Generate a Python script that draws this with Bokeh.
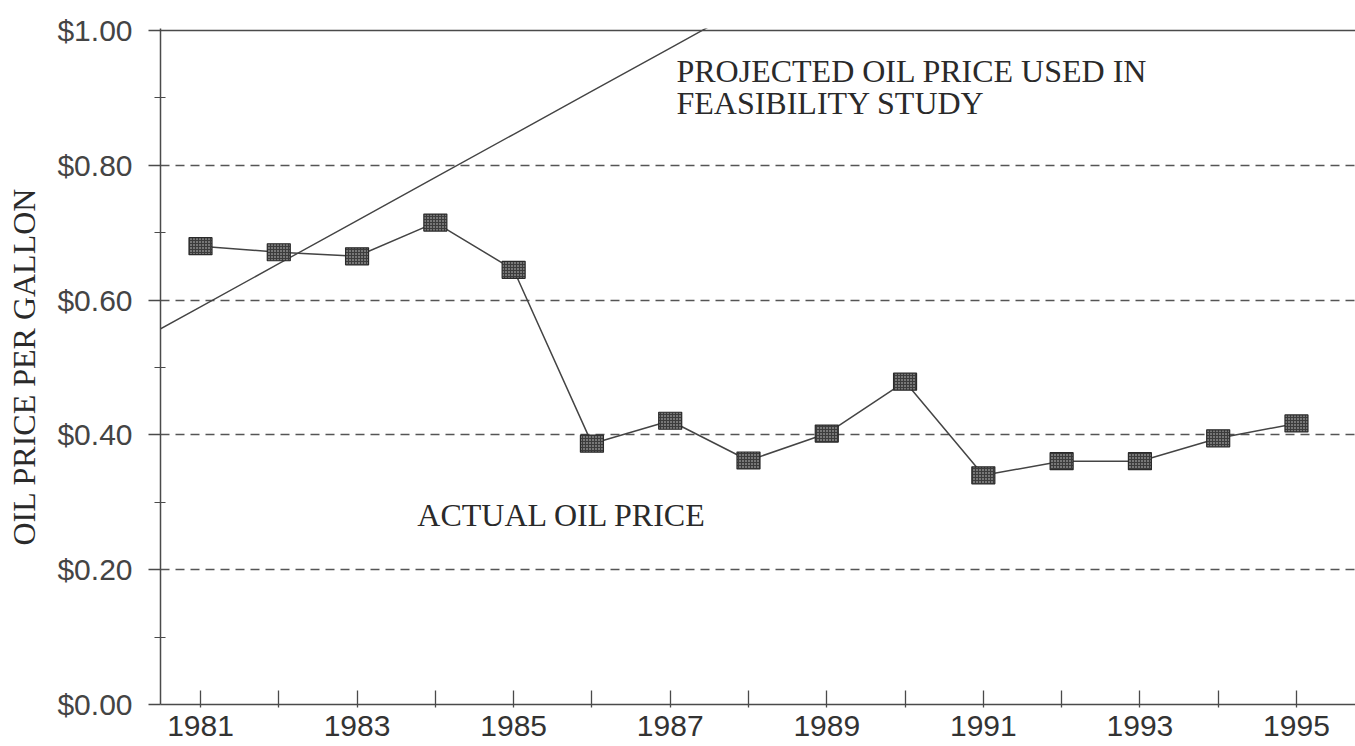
from bokeh.plotting import figure
from bokeh.models import FixedTicker, Span, ColumnDataSource, Range1d
from bokeh.core.properties import value
from bokeh.embed import file_html
from bokeh.resources import INLINE

# ---- data ----
years = [1981, 1982, 1983, 1984, 1985, 1986, 1987, 1988, 1989, 1990, 1991, 1992, 1993, 1994, 1995]
actual_price = [0.680, 0.671, 0.665, 0.715, 0.645, 0.387, 0.421, 0.362, 0.402, 0.479, 0.340, 0.361, 0.361, 0.395, 0.417]

proj_years = [1980, 1981, 1982, 1983, 1984, 1985, 1986, 1987, 1988]
proj_price = [0.526, 0.590, 0.654, 0.718, 0.782, 0.846, 0.910, 0.974, 1.038]

x_label_years = [1981, 1983, 1985, 1987, 1989, 1991, 1993, 1995]
x_minor_years = [1982, 1984, 1986, 1988, 1990, 1992, 1994]
y_ticks = [0.0, 0.2, 0.4, 0.6, 0.8, 1.0]
y_tick_labels = ["$0.00", "$0.20", "$0.40", "$0.60", "$0.80", "$1.00"]
y_minor = [0.1, 0.3, 0.5, 0.7, 0.9]
grid_levels = [0.2, 0.4, 0.6, 0.8]

notes_text = ["PROJECTED OIL PRICE USED IN", "FEASIBILITY STUDY", "ACTUAL OIL PRICE"]
notes_x = [1987.08, 1987.08, 1983.77]
notes_y = [0.940, 0.892, 0.281]

INK = "#4a4a4a"
TXT = "#2a2a2a"

p = figure(width=1355, height=746, output_backend="svg", toolbar_location=None,
           x_range=Range1d(1980.489, 1995.754), y_range=Range1d(0.0, 1.003),
           min_border_top=28, min_border_right=0, min_border_left=160, min_border_bottom=42)
p.outline_line_color = None
p.background_fill_color = "white"
p.border_fill_color = "white"

# x axis
xa = p.xaxis[0]
xa.ticker = FixedTicker(ticks=x_label_years, minor_ticks=x_minor_years)
xa.major_tick_in = 14
xa.major_tick_out = 3
xa.minor_tick_in = 14
xa.minor_tick_out = 3
xa.major_tick_line_color = INK
xa.minor_tick_line_color = INK
xa.major_tick_line_width = 1.3
xa.minor_tick_line_width = 1.3
xa.axis_line_color = INK
xa.axis_line_width = 1.5
xa.major_label_text_font = "Liberation Sans"
xa.major_label_text_font_size = "30px"
xa.major_label_text_color = "#333333"
xa.major_label_standoff = 8

# y axis
ya = p.yaxis[0]
ya.ticker = FixedTicker(ticks=y_ticks, minor_ticks=y_minor)
ya.major_label_overrides = {t: l for t, l in zip(y_ticks, y_tick_labels)}
ya.major_tick_in = 0
ya.major_tick_out = 12
ya.minor_tick_in = 5
ya.minor_tick_out = 6
ya.major_tick_line_color = INK
ya.minor_tick_line_color = INK
ya.major_tick_line_width = 1.3
ya.minor_tick_line_width = 1.2
ya.axis_line_color = INK
ya.axis_line_width = 1.5
ya.major_label_text_font = "Liberation Sans"
ya.major_label_text_font_size = "30px"
ya.major_label_text_color = "#444444"
ya.major_label_standoff = 16
ya.axis_label = "OIL PRICE PER GALLON"
ya.axis_label_text_font = "Liberation Serif"
ya.axis_label_text_font_size = "32px"
ya.axis_label_text_font_style = "normal"
ya.axis_label_text_color = TXT
ya.axis_label_standoff = 12

# grid
p.xgrid.visible = False
p.ygrid.ticker = FixedTicker(ticks=grid_levels)
p.ygrid.grid_line_color = "#555555"
p.ygrid.grid_line_dash = "9 6"
p.ygrid.grid_line_width = 1.3

p.add_layout(Span(location=1.0, dimension="width", line_color=INK, line_width=1.5))

# projected line
p.line(proj_years, proj_price, line_color="#444444", line_width=1.4)

# actual line + markers
src = ColumnDataSource(dict(x=years, y=actual_price))
p.line("x", "y", source=src, line_color="#444444", line_width=1.5)
p.rect("x", "y", width=23, height=17, width_units="screen", height_units="screen", source=src,
       fill_color="#3c3c3c", line_color="#2a2a2a", line_width=1.2,
       hatch_pattern="dot", hatch_color="#cfcfcf", hatch_scale=3, hatch_weight=1)

# annotations
p.text(notes_x, notes_y, text=notes_text, text_font=value("Liberation Serif"),
       text_font_size="32px", text_color=TXT, text_baseline="alphabetic", text_align="left")

open("out.html", "w").write(file_html(p, INLINE))
